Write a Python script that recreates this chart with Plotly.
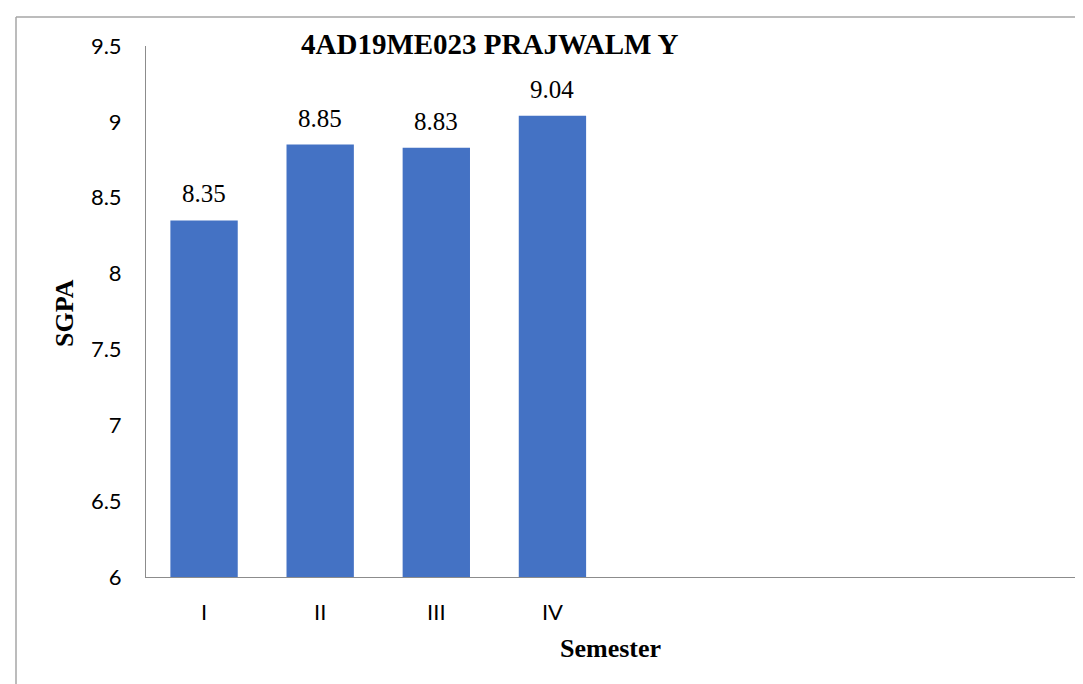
import plotly.graph_objects as go

categories = ["I", "II", "III", "IV"]
sgpa = [8.35, 8.85, 8.83, 9.04]
n_slots = 8
y_ticks = [6, 6.5, 7, 7.5, 8, 8.5, 9, 9.5]
y_tick_text = ["6", "6.5", "7", "7.5", "8", "8.5", "9", "9.5"]

W, H = 1083, 684
L, R, T, B = 138, 16, 38, 115
pw, ph = W - L - R, H - T - B

def px(x):
    return (x - L) / pw

def py(y):
    return (H - B - y) / ph

fig = go.Figure()
fig.add_trace(go.Bar(
    x=list(range(len(categories))),
    y=sgpa,
    width=0.58,
    marker=dict(color="#4472C4", line=dict(width=0)),
    hoverinfo="x+y",
))

label_annotations = [
    dict(x=i, y=v, xref="x", yref="y", text=f"{v:.2f}", showarrow=False,
         xanchor="center", yanchor="bottom", yshift=11,
         font=dict(family="Liberation Serif", size=25, color="#000000"))
    for i, v in enumerate(sgpa)
]

fig.update_layout(
    width=W, height=H,
    margin=dict(l=L, r=R, t=T, b=B),
    paper_bgcolor="white", plot_bgcolor="white",
    showlegend=False,
    xaxis=dict(
        range=[-0.5, n_slots - 0.5],
        tickvals=list(range(len(categories))),
        ticktext=categories,
        showgrid=False, zeroline=False,
        showline=True, linecolor="#8c8c8c", linewidth=1,
        ticks="", ticklabelstandoff=16,
        tickfont=dict(family="Lato", size=22, color="#000000"),
    ),
    yaxis=dict(
        range=[6, 9.5],
        tickvals=y_ticks, ticktext=y_tick_text,
        showgrid=False, zeroline=False,
        showline=True, linecolor="#8c8c8c", linewidth=1,
        ticks="", ticklabelstandoff=19,
        tickfont=dict(family="Lato", size=22, color="#000000"),
    ),
    annotations=label_annotations + [
        dict(text="<b>4AD19ME023 PRAJWALM Y</b>", xref="paper", yref="paper",
             x=px(482), y=py(36), xanchor="center", yanchor="middle",
             showarrow=False, font=dict(family="Liberation Serif", size=29, color="#000000")),
        dict(text="<b>SGPA</b>", xref="paper", yref="paper",
             x=px(57), y=py(305), xanchor="center", yanchor="middle", textangle=-90,
             showarrow=False, font=dict(family="Liberation Serif", size=26, color="#000000")),
        dict(text="<b>Semester</b>", xref="paper", yref="paper",
             x=px(602), y=py(640), xanchor="center", yanchor="middle",
             showarrow=False, font=dict(family="Liberation Serif", size=26, color="#000000")),
    ],
    shapes=[
        dict(type="line", xref="paper", yref="paper", x0=px(8), x1=px(1090), y0=py(9), y1=py(9),
             line=dict(color="#a6a6a6", width=1.5)),
        dict(type="line", xref="paper", yref="paper", x0=px(8), x1=px(8), y0=py(9), y1=py(700),
             line=dict(color="#a6a6a6", width=1.5)),
    ],
)

fig.write_html("out.html")
